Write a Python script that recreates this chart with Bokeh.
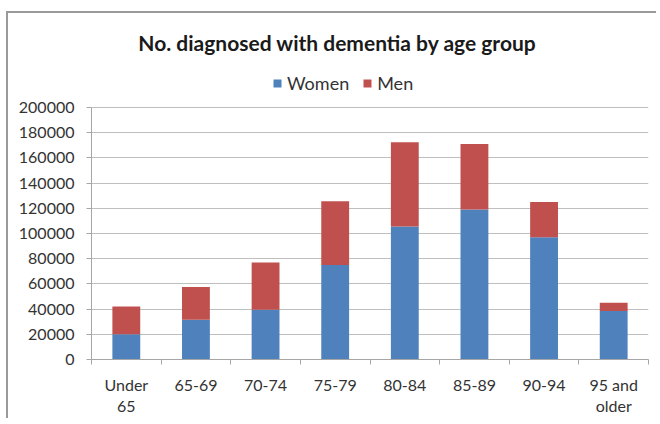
import numpy as np
from bokeh.plotting import figure
from bokeh.models import (ColumnDataSource, Range1d, FixedTicker, NumeralTickFormatter,
                          CustomJSTickFormatter, Legend, LegendItem, Label)
from bokeh.embed import file_html
from bokeh.resources import INLINE

# ---- data ----
categories = ["Under\n65", "65-69", "70-74", "75-79", "80-84", "85-89", "90-94", "95 and\nolder"]
women = [20000, 31500, 39500, 75000, 105500, 119000, 97000, 38500]
men = [22000, 26000, 37500, 50500, 67000, 52000, 28000, 6500]
series = ["Women", "Men"]
colors = ["#4F81BD", "#C0504D"]
y_ticks = list(range(0, 200001, 20000))
title_text = "No. diagnosed with dementia by age group"

FONT = "Lato"
TEXT_COLOR = "#333333"
AXIS_COLOR = "#a6a6a6"

# layout (pixels): plotting area height and the header space kept inside the frame
PLOT_PX = 252
HEADER_PX = 84

n = len(categories)
xpos = np.arange(n) + 0.5
src = ColumnDataSource(dict(x=xpos, Women=women, Men=men))
y_max = y_ticks[-1]
y_end = y_max * (PLOT_PX + HEADER_PX) / PLOT_PX

p = figure(frame_width=557, frame_height=PLOT_PX + HEADER_PX,
           min_border_left=83, min_border_top=10, min_border_right=8, min_border_bottom=56,
           x_range=Range1d(0, n), y_range=Range1d(0, y_end),
           output_backend="svg", toolbar_location=None, tools="")
p.styles = {"position": "relative", "left": "6px", "top": "11px",
            "border-left": "2px solid #9a9a9a", "border-top": "2px solid #9a9a9a"}
p.outline_line_color = None
p.background_fill_color = "white"
p.border_fill_color = "white"

renderers = p.vbar_stack(series, x="x", width=0.4, source=src, color=colors,
                         line_color=None)

# grid
p.xgrid.visible = False
p.ygrid.grid_line_color = "#bfbfbf"
p.ygrid.grid_line_width = 1

# y axis
yax = p.yaxis[0]
yax.bounds = (0, y_max)
yax.ticker = FixedTicker(ticks=y_ticks)
yax.formatter = NumeralTickFormatter(format="0")
yax.axis_line_color = AXIS_COLOR
yax.major_tick_line_color = AXIS_COLOR
yax.major_tick_out = 5
yax.major_tick_in = 0
yax.minor_tick_line_color = None
yax.major_label_standoff = 12
yax.major_label_text_font = FONT
yax.major_label_text_font_size = "16px"
yax.major_label_text_color = TEXT_COLOR

# x axis: ticks at category boundaries, labels at centres
xax = p.xaxis[0]
xax.ticker = FixedTicker(ticks=list(xpos), minor_ticks=list(range(n + 1)))
xax.formatter = CustomJSTickFormatter(args=dict(labels=categories),
                                      code="return labels[Math.floor(tick)] || ''")
xax.axis_line_color = AXIS_COLOR
xax.major_tick_line_color = None
xax.major_tick_out = 0
xax.major_tick_in = 0
xax.minor_tick_line_color = AXIS_COLOR
xax.minor_tick_out = 5
xax.minor_tick_in = 0
xax.major_label_standoff = 10
xax.major_label_text_font = FONT
xax.major_label_text_font_size = "16px"
xax.major_label_text_color = TEXT_COLOR
xax.major_label_text_line_height = 1.15

# title (inside the frame's header space)
p.add_layout(Label(x=246, y=317, x_units="screen", y_units="screen", text=title_text,
                   text_align="center", text_baseline="alphabetic",
                   text_font=FONT, text_font_style="bold", text_font_size="21px",
                   text_color="#1a1a1a"))

# legend
legend = Legend(items=[LegendItem(label=s, renderers=[r]) for s, r in zip(series, renderers)],
                location=(181, 265), orientation="horizontal",
                glyph_width=10, glyph_height=10, label_height=10, label_standoff=5,
                spacing=13, padding=0, margin=0,
                border_line_color=None, background_fill_alpha=0,
                label_text_font=FONT, label_text_font_size="18px", label_text_color=TEXT_COLOR,
                label_text_baseline="middle")
p.add_layout(legend, "center")

open("out.html", "w").write(file_html(p, INLINE))
